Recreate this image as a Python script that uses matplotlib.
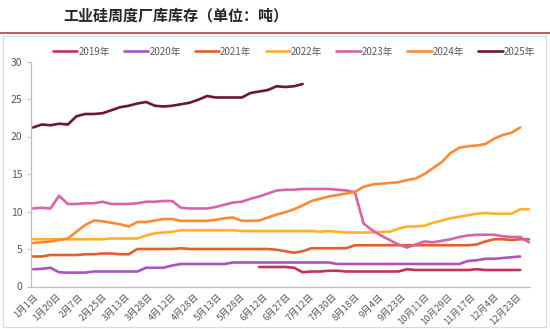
import matplotlib
matplotlib.use('Agg')
import matplotlib.pyplot as plt
from matplotlib.patches import Rectangle
from matplotlib.lines import Line2D
import numpy as np

plt.rcParams['font.family'] = ['Noto Sans CJK SC', 'DejaVu Sans']

# tick labels along the category axis
date_labels = ['1月1日', '1月20日', '2月7日', '2月25日', '3月13日', '3月28日', '4月12日',
               '4月28日', '5月13日', '5月28日', '6月12日', '6月27日', '7月12日', '7月30日',
               '8月18日', '9月4日', '9月23日', '10月11日', '10月29日', '11月17日',
               '12月4日', '12月23日']

# weekly plant inventory (10k t)
y2019_start = 26
y2019 = [2.6, 2.6, 2.6, 2.6, 2.5, 1.9, 2.0, 2.0, 2.1, 2.1,
         2.0, 2.0, 2.0, 2.0, 2.0, 2.0, 2.0, 2.3, 2.2, 2.2,
         2.2, 2.2, 2.2, 2.2, 2.2, 2.3, 2.2, 2.2, 2.2, 2.2, 2.2]
y2020 = [2.3, 2.35, 2.5, 1.9, 1.85, 1.85, 1.85, 2.0, 2.0, 2.0,
         2.0, 2.0, 2.0, 2.5, 2.5, 2.5, 2.8, 3.0, 3.0, 3.0,
         3.0, 3.0, 3.0, 3.2, 3.2, 3.2, 3.2, 3.2, 3.2, 3.2,
         3.2, 3.2, 3.2, 3.2, 3.2, 3.0, 3.0, 3.0, 3.0, 3.0,
         3.0, 3.0, 3.0, 3.0, 3.0, 3.0, 3.0, 3.0, 3.0, 3.0,
         3.4, 3.5, 3.7, 3.7, 3.8, 3.9, 4.0]
y2021 = [4.0, 4.0, 4.2, 4.2, 4.2, 4.2, 4.3, 4.3, 4.4, 4.4,
         4.3, 4.3, 5.0, 5.0, 5.0, 5.0, 5.0, 5.1, 5.0, 5.0,
         5.0, 5.0, 5.0, 5.0, 5.0, 5.0, 5.0, 5.0, 4.9, 4.7,
         4.5, 4.7, 5.1, 5.1, 5.1, 5.1, 5.1, 5.5, 5.5, 5.5,
         5.5, 5.5, 5.5, 5.5, 5.5, 5.5, 5.5, 5.5, 5.5, 5.5,
         5.5, 5.6, 6.0, 6.3, 6.3, 6.2, 6.3, 6.3]
y2022 = [6.3, 6.3, 6.3, 6.3, 6.3, 6.3, 6.3, 6.3, 6.3, 6.4,
         6.4, 6.4, 6.4, 6.8, 7.1, 7.2, 7.3, 7.5, 7.5, 7.5,
         7.5, 7.5, 7.5, 7.5, 7.4, 7.4, 7.4, 7.4, 7.4, 7.4,
         7.4, 7.4, 7.4, 7.3, 7.4, 7.3, 7.2, 7.2, 7.2, 7.2,
         7.3, 7.3, 7.7, 8.0, 8.0, 8.1, 8.5, 8.8, 9.1, 9.3,
         9.5, 9.7, 9.8, 9.7, 9.7, 9.7, 10.3, 10.3]
y2023 = [10.4, 10.5, 10.4, 12.1, 11.0, 11.0, 11.1, 11.1, 11.3, 11.0,
         11.0, 11.0, 11.1, 11.3, 11.3, 11.4, 11.4, 10.5, 10.4, 10.4,
         10.4, 10.6, 10.9, 11.2, 11.3, 11.7, 12.0, 12.4, 12.8, 12.9,
         12.9, 13.0, 13.0, 13.0, 13.0, 12.9, 12.8, 12.6, 8.4, 7.5,
         6.8, 6.2, 5.6, 5.2, 5.6, 6.0, 5.9, 6.1, 6.3, 6.6,
         6.8, 6.9, 6.9, 6.9, 6.7, 6.6, 6.6, 5.9]
y2024 = [5.8, 5.9, 6.0, 6.2, 6.4, 7.3, 8.2, 8.8, 8.7, 8.5,
         8.3, 8.0, 8.6, 8.6, 8.8, 9.0, 9.0, 8.75, 8.75, 8.75,
         8.75, 8.9, 9.1, 9.2, 8.75, 8.75, 8.8, 9.2, 9.6, 9.9,
         10.3, 10.8, 11.4, 11.7, 12.0, 12.2, 12.4, 12.6, 13.3, 13.6,
         13.7, 13.8, 13.9, 14.2, 14.4, 15.0, 15.8, 16.6, 17.8, 18.5,
         18.7, 18.8, 19.0, 19.7, 20.2, 20.5, 21.2]
y2025 = [21.2, 21.6, 21.5, 21.7, 21.6, 22.7, 23.0, 23.0, 23.1, 23.5,
         23.9, 24.1, 24.4, 24.6, 24.1, 24.0, 24.1, 24.3, 24.5, 24.9,
         25.4, 25.2, 25.2, 25.2, 25.2, 25.8, 26.0, 26.2, 26.7, 26.6,
         26.7, 27.0]

series = [
    ('2019年', y2019, y2019_start, '#C0345C'),
    ('2020年', y2020, 0, '#A855BF'),
    ('2021年', y2021, 0, '#E0612B'),
    ('2022年', y2022, 0, '#FFB12E'),
    ('2023年', y2023, 0, '#D664A8'),
    ('2024年', y2024, 0, '#FF8933'),
    ('2025年', y2025, 0, '#6B1632'),
]

W, H = 550, 329
fig = plt.figure(figsize=(W / 100, H / 100), dpi=100)

# outer chart frame and red rule under the title
fig.patches.append(Rectangle((3 / W, 2 / H), 543 / W, 291 / H, transform=fig.transFigure,
                             fill=False, edgecolor='#D9D9D9', lw=0.8))
fig.add_artist(Line2D([0, 1], [1 - 33 / H, 1 - 33 / H], color='#C8334A', lw=1.2))
fig.text(63 / W, 1 - 15 / H, '工业硅周度厂库库存（单位：吨）', ha='left', va='center',
         fontsize=10.8, fontweight='bold', color='#262626')

ax = fig.add_axes([31 / W, 1 - 286.5 / H, 499 / W, 225 / H])
for name, vals, start, color in series:
    x = np.arange(start, start + len(vals))
    ax.plot(x, vals, color=color, lw=1.9, label=name, solid_capstyle='round')

ax.set_ylim(0, 30)
ax.set_yticks(range(0, 31, 5))
ax.set_xlim(-0.23, 57.13)
ax.set_xticks(np.arange(len(date_labels)) * 2.65)
ax.set_xticklabels(date_labels, rotation=45, ha='right', rotation_mode='anchor')

for s in ['top', 'right']:
    ax.spines[s].set_visible(False)
for s in ['left', 'bottom']:
    ax.spines[s].set_color('#BFBFBF')
    ax.spines[s].set_linewidth(0.9)
ax.tick_params(axis='y', length=3, color='#BFBFBF', labelsize=7.5, labelcolor='#595959', pad=3)
ax.tick_params(axis='x', length=0, labelsize=6.8, labelcolor='#595959', pad=4)

fig.legend(loc='center', bbox_to_anchor=(294 / W, 1 - 51.5 / H), ncol=7, frameon=False,
           fontsize=7, handlelength=2.5, handletextpad=0.1, columnspacing=1.45,
           labelcolor='#595959')

fig.savefig('out.png', dpi=100)
